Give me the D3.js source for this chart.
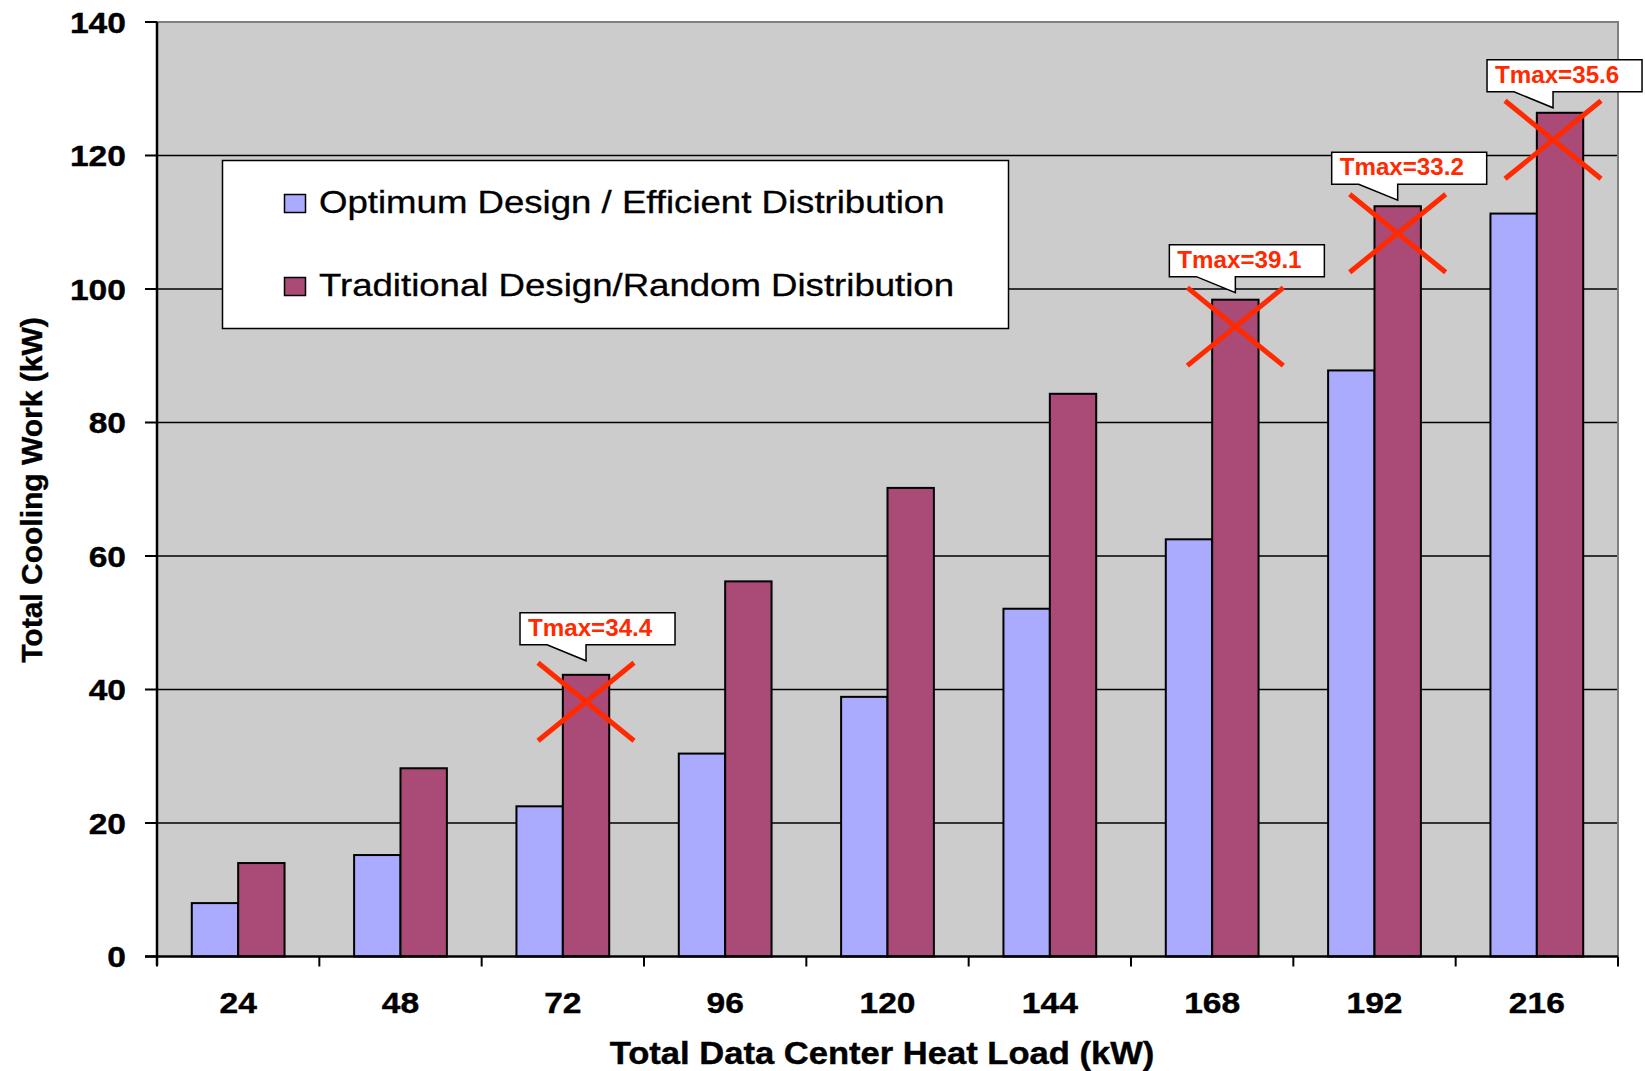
<!DOCTYPE html>
<html>
<head>
<meta charset="utf-8">
<script src="https://cdn.jsdelivr.net/npm/d3@7/dist/d3.min.js"></script>
<style>
  html, body { margin: 0; padding: 0; background: #fff; }
  svg { display: block; font-family: "Liberation Sans", Arial, sans-serif; }
</style>
</head>
<body>
<svg id="chart" width="1645" height="1071"></svg>
<script>
// Heat load categories (kW) and total cooling work for each design (kW)
const categories = [24, 48, 72, 96, 120, 144, 168, 192, 216];
const optimumWork = [8.0, 15.2, 22.5, 30.4, 38.9, 52.1, 62.5, 87.8, 111.3];
const traditionalWork = [14.0, 28.2, 42.2, 56.2, 70.2, 84.3, 98.4, 112.4, 126.4];
const seriesNames = ["Optimum Design / Efficient Distribution", "Traditional Design/Random Distribution"];
const seriesColors = ["#AAAAFF", "#A94A77"];
const yTickValues = [0, 20, 40, 60, 80, 100, 120, 140];

// Loads where the traditional layout exceeds the inlet limit, with the max temperature
const flaggedLoads = [72, 168, 192, 216];
const flaggedLabels = ["Tmax=34.4", "Tmax=39.1", "Tmax=33.2", "Tmax=35.6"];

const svg = d3.select("#chart");
const plot = { left: 157, right: 1618, top: 22, bottom: 956.5 };

const x = d3.scaleBand().domain(categories).range([plot.left, plot.right]).padding(0);
const xSub = d3.scaleBand().domain([0, 1]).range([0, x.bandwidth()])
  .paddingInner(0).paddingOuter(0.75);
const y = d3.scaleLinear().domain([0, 140]).range([plot.bottom, plot.top]);

const values = [optimumWork, traditionalWork];

// plot background
svg.append("rect")
  .attr("x", plot.left).attr("y", plot.top)
  .attr("width", plot.right - plot.left).attr("height", plot.bottom - plot.top)
  .attr("fill", "#CCCCCC");

// gridlines
svg.append("g").selectAll("line").data(yTickValues.filter(v => v > 0 && v < 140)).join("line")
  .attr("x1", plot.left).attr("x2", plot.right)
  .attr("y1", d => y(d)).attr("y2", d => y(d))
  .attr("stroke", "#000").attr("stroke-width", 1.5);

// top & right frame
svg.append("path")
  .attr("d", `M${plot.left},${plot.top}H${plot.right}V${plot.bottom}`)
  .attr("fill", "none").attr("stroke", "#808080").attr("stroke-width", 2);

// bars
const groups = svg.append("g").selectAll("g").data(categories).join("g")
  .attr("transform", d => `translate(${x(d)},0)`);
groups.selectAll("rect").data((d, i) => values.map((s, k) => ({ k, v: s[i] }))).join("rect")
  .attr("x", d => xSub(d.k))
  .attr("width", xSub.bandwidth())
  .attr("y", d => y(d.v))
  .attr("height", d => y(0) - y(d.v))
  .attr("fill", d => seriesColors[d.k])
  .attr("stroke", "#000").attr("stroke-width", 2);

// y axis
const yAxis = svg.append("g");
yAxis.append("line")
  .attr("x1", plot.left).attr("x2", plot.left)
  .attr("y1", plot.top).attr("y2", plot.bottom + 9)
  .attr("stroke", "#000").attr("stroke-width", 2.5);
yAxis.selectAll(".tk").data(yTickValues).join("line")
  .attr("x1", plot.left - 12).attr("x2", plot.left)
  .attr("y1", d => y(d)).attr("y2", d => y(d))
  .attr("stroke", "#000").attr("stroke-width", 2);
yAxis.selectAll("g.lbl").data(yTickValues).join("g")
  .attr("transform", d => `translate(126,${y(d) + 10.5}) scale(1.12,1)`)
  .append("text")
  .attr("text-anchor", "end")
  .attr("font-size", 30).attr("font-weight", "bold")
  .attr("stroke", "#000").attr("stroke-width", 0.4)
  .text(d => d);

// x axis
const xAxis = svg.append("g");
xAxis.append("line")
  .attr("x1", plot.left - 12).attr("x2", plot.right)
  .attr("y1", plot.bottom).attr("y2", plot.bottom)
  .attr("stroke", "#000").attr("stroke-width", 2.5);
const boundaries = categories.map(c => x(c)).concat([plot.right]);
xAxis.selectAll(".tk").data(boundaries).join("line")
  .attr("x1", d => d).attr("x2", d => d)
  .attr("y1", plot.bottom).attr("y2", plot.bottom + 10)
  .attr("stroke", "#000").attr("stroke-width", 2);
xAxis.selectAll("g.lbl").data(categories).join("g")
  .attr("transform", d => `translate(${x(d) + x.bandwidth() / 2},1013) scale(1.12,1)`)
  .append("text")
  .attr("text-anchor", "middle")
  .attr("font-size", 30).attr("font-weight", "bold")
  .attr("stroke", "#000").attr("stroke-width", 0.4)
  .text(d => d);

// axis titles
svg.append("g").attr("transform", "translate(882,1064) scale(1.115,1)")
  .append("text").attr("text-anchor", "middle")
  .attr("font-size", 31).attr("font-weight", "bold")
  .attr("stroke", "#000").attr("stroke-width", 0.4)
  .text("Total Data Center Heat Load (kW)");
svg.append("text")
  .attr("transform", "translate(42,490) rotate(-90)")
  .attr("text-anchor", "middle")
  .attr("font-size", 30).attr("font-weight", "bold")
  .attr("stroke", "#000").attr("stroke-width", 0.4)
  .text("Total Cooling Work (kW)");

// legend
const legend = svg.append("g");
legend.append("rect")
  .attr("x", 222.5).attr("y", 160.5).attr("width", 786).attr("height", 168)
  .attr("fill", "#fff").attr("stroke", "#000").attr("stroke-width", 1.5);
const legendRows = [213, 296];
seriesNames.forEach((name, k) => {
  legend.append("rect")
    .attr("x", 284.5).attr("y", legendRows[k] - 18.5).attr("width", 21).attr("height", 18)
    .attr("fill", seriesColors[k]).attr("stroke", "#000").attr("stroke-width", 1.5);
  legend.append("g").attr("transform", `translate(319,${legendRows[k]}) scale(1.2,1)`)
    .append("text").attr("font-size", 30.5)
    .attr("stroke", "#000").attr("stroke-width", 0.3)
    .text(name);
});

// layout tweaks per flagged bar: callout tip gap above the bar, and horizontal nudge
const tipGap = [14, 7, 6, 5];
const nudgeX = [0, 0, 0, -7];

// crosses over the flagged bars
const crosses = svg.append("g");
flaggedLoads.forEach((load, j) => {
  const i = categories.indexOf(load);
  const cx = x(load) + xSub(1) + xSub.bandwidth() / 2 + nudgeX[j];
  const cy = y(traditionalWork[i]) + 27;
  crosses.append("path")
    .attr("d", `M${cx - 48},${cy - 39}L${cx + 48},${cy + 39}M${cx + 48},${cy - 39}L${cx - 48},${cy + 39}`)
    .attr("stroke", "#FF2A00").attr("stroke-width", 5).attr("fill", "none");
});

// callouts with max temperatures
const callouts = svg.append("g");
flaggedLoads.forEach((load, j) => {
  const i = categories.indexOf(load);
  const tipX = x(load) + xSub(1) + xSub.bandwidth() / 2 + nudgeX[j];
  const tipY = y(traditionalWork[i]) - tipGap[j];
  const bottom = tipY - 16, top = bottom - 32;
  const left = tipX - 66, right = left + 155;
  callouts.append("path")
    .attr("d", `M${left},${top}H${right}V${bottom}H${tipX}V${tipY}L${left + 27},${bottom}H${left}Z`)
    .attr("fill", "#fff").attr("stroke", "#000").attr("stroke-width", 1.5);
  callouts.append("g").attr("transform", `translate(${left + 8},${bottom - 9}) scale(1.05,1)`)
    .append("text").attr("font-size", 23).attr("font-weight", "bold")
    .attr("fill", "#FF2A00").text(flaggedLabels[j]);
});
</script>
</body>
</html>
